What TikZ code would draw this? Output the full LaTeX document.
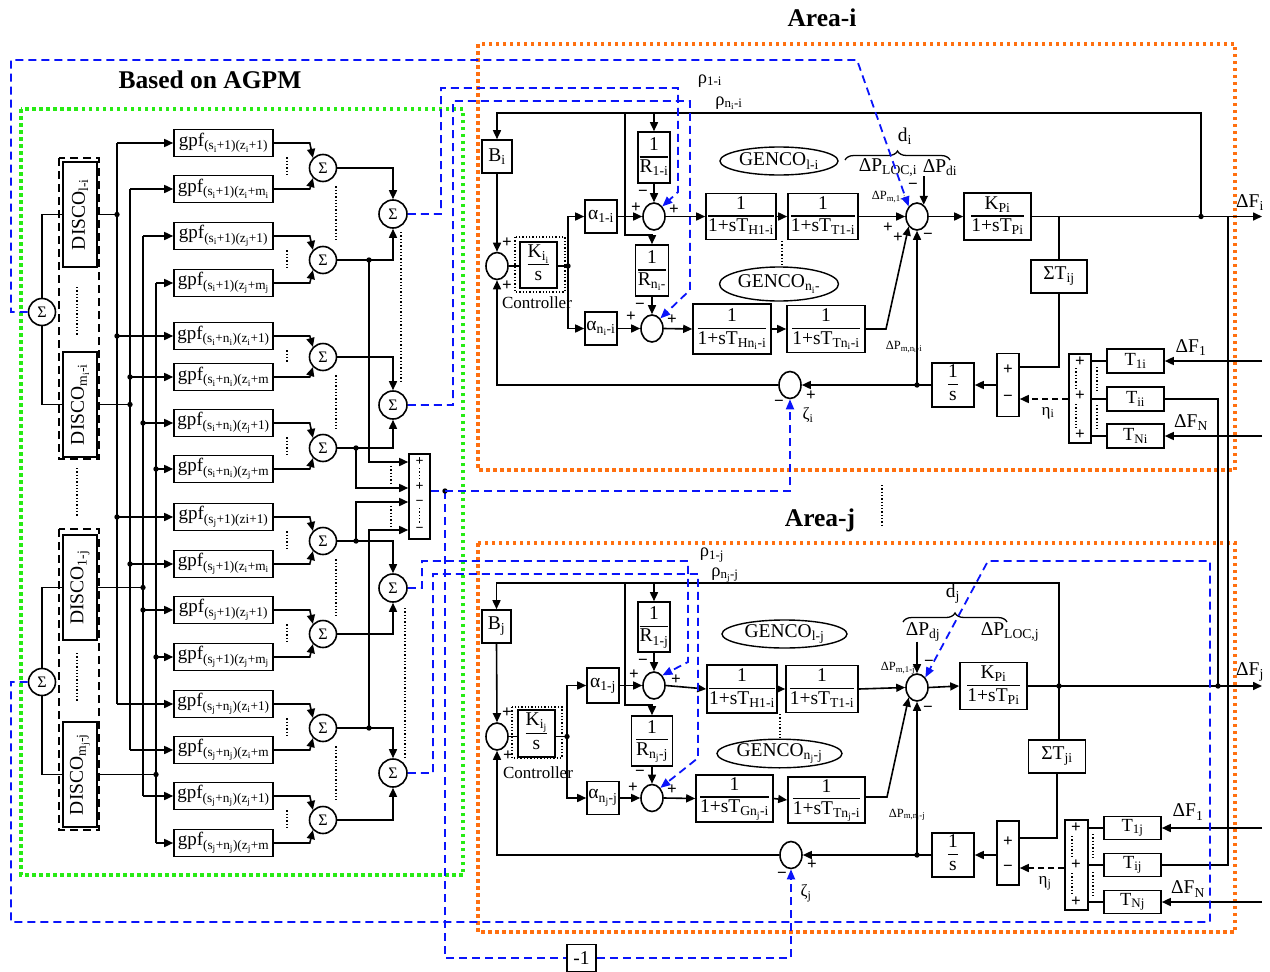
\documentclass[tikz,border=0pt]{standalone}
\usepackage{fontspec}
\setmainfont{Liberation Serif}
\usetikzlibrary{arrows.meta,shapes.geometric,decorations.pathreplacing}
\newcommand{\sbs}[1]{\textsubscript{#1}}
\newcommand{\myfs}{\fontsize{19.5}{19.5}\selectfont}
\newcommand{\fr}[2]{\begin{tabular}{@{}c@{}}#1\\\hline\rule{0pt}{15pt}#2\end{tabular}}
\setlength{\arrayrulewidth}{1.4pt}
\definecolor{cOrange}{RGB}{255,112,16}
\definecolor{cGreen}{RGB}{40,235,20}
\definecolor{cBlue}{RGB}{10,20,250}
\tikzset{
 ln/.style={line width=1.6pt},
 arr/.style={ln,-{Triangle[length=9pt,width=8pt]}},
 blk/.style={draw,line width=1.6pt,inner sep=0pt,font=\myfs},
 gbox/.style={draw,line width=1.6pt,inner sep=0pt,minimum width=99pt,minimum height=27pt,font=\fontsize{19}{19}\selectfont},
 sumc/.style={draw,ellipse,line width=1.6pt,minimum width=22pt,minimum height=27pt,inner sep=0pt},
 sigc/.style={draw,circle,line width=1.6pt,minimum size=27pt,inner sep=0pt,font=\fontsize{16}{16}\selectfont},
 gen/.style={draw,ellipse,line width=1.4pt,inner sep=0pt,font=\myfs},
 sgn/.style={font=\fontsize{17}{17}\selectfont\bfseries,inner sep=0pt},
 bdash/.style={draw=cBlue,line width=1.8pt,dash pattern=on 8pt off 5pt},
 barr/.style={bdash,-{Triangle[length=10pt,width=8pt]},cBlue},
 dotv/.style={line width=1.3pt,dash pattern=on 1.3pt off 2pt},
 kdash/.style={arr,dash pattern=on 6pt off 4pt},
 tlab/.style={inner sep=0pt,font=\myfs},
 mlab/.style={inner sep=0pt,font=\fontsize{17}{17}\selectfont},
 rlab/.style={inner sep=0pt,font=\fontsize{18.5}{18.5}\selectfont},
 smlab/.style={inner sep=0pt,font=\fontsize{12.5}{12.5}\selectfont},
 ttl/.style={inner sep=0pt,font=\fontsize{25.5}{25.5}\selectfont\bfseries},
 ofr/.style={draw=cOrange,line width=4pt,dash pattern=on 3.5pt off 3.5pt},
 gfr/.style={draw=cGreen,line width=4pt,dash pattern=on 3.5pt off 3.5pt},
 dfr/.style={draw,line width=2.5pt,dash pattern=on 8pt off 5pt},
}
\begin{document}
\begin{tikzpicture}[x=1pt,y=-1pt]
\useasboundingbox (0,0) rectangle (1270,972);
% titles
\node[ttl] (tAi) at (822,18) {Area-i};
\node[ttl] (tAj) at (820,520) {Area-j};
\node[ttl] (tAG) at (210,80) {Based on AGPM};
% frames
\draw[ofr] (478,44) rectangle (1235,470);
\draw[ofr] (478,543) rectangle (1235,932);
\draw[gfr] (21,109) rectangle (463,875);
\draw[dotv] (882,485) -- (882,525);

% ================= LEFT: DISCO / gpf =================
\draw[dfr] (59,158) rectangle (99,459);
\draw[dfr] (59,529) rectangle (99,830);
\node[draw,line width=1.6pt,minimum width=34pt,minimum height=105pt] (d1i) at (80,214.5) {};
\node[rotate=90,tlab] (d1it) at (d1i) {DISCO\sbs{l-i}};
\node[draw,line width=1.6pt,minimum width=34pt,minimum height=105pt] (dmi) at (80,404.5) {};
\node[rotate=90,tlab] (dmit) at (dmi) {DISCO\sbs{m\sbs{i}-i}};
\node[draw,line width=1.6pt,minimum width=34pt,minimum height=105pt] (d1j) at (80,587.5) {};
\node[rotate=90,tlab] (d1jt) at (d1j) {DISCO\sbs{1-j}};
\node[draw,line width=1.6pt,minimum width=34pt,minimum height=105pt] (dmj) at (80,774.5) {};
\node[rotate=90,tlab] (dmjt) at (dmj) {DISCO\sbs{m\sbs{j}-j}};
\draw[dotv] (77,287) -- (77,335);
\draw[dotv] (77,468) -- (77,516);
\draw[dotv] (77,653) -- (77,702);
\node[sigc] (si) at (42,312) {Σ};
\node[sigc] (sj) at (42,682) {Σ};
\draw[ln] (si.north) |- (d1i.west);
\draw[ln] (si.south) |- (dmi.west);
\draw[ln] (sj.north) |- (d1j.west);
\draw[ln] (sj.south) |- (dmj.west);

% gpf boxes
\node[gbox] (g1) at (223.5,143) {gpf\sbs{(s\sbs{i}+1)(z\sbs{i}+1)}};
\node[gbox] (g2) at (223.5,189) {gpf\sbs{(s\sbs{i}+1)(z\sbs{i}+m\sbs{i}}};
\node[gbox] (g3) at (223.5,236) {gpf\sbs{(s\sbs{i}+1)(z\sbs{j}+1)}};
\node[gbox] (g4) at (223.5,283) {gpf\sbs{(s\sbs{i}+1)(z\sbs{j}+m\sbs{j}}};
\node[gbox] (g5) at (223.5,336) {gpf\sbs{(s\sbs{i}+n\sbs{i})(z\sbs{i}+1)}};
\node[gbox] (g6) at (223.5,377) {gpf\sbs{(s\sbs{i}+n\sbs{i})(z\sbs{i}+m}};
\node[gbox] (g7) at (223.5,423) {gpf\sbs{(s\sbs{i}+n\sbs{i})(z\sbs{j}+1)}};
\node[gbox] (g8) at (223.5,469) {gpf\sbs{(s\sbs{i}+n\sbs{i})(z\sbs{j}+m}};
\node[gbox] (g9) at (223.5,517) {gpf\sbs{(s\sbs{j}+1)(zi+1)}};
\node[gbox] (g10) at (223.5,564) {gpf\sbs{(s\sbs{j}+1)(z\sbs{i}+m\sbs{i}}};
\node[gbox] (g11) at (223.5,610) {gpf\sbs{(s\sbs{j}+1)(z\sbs{j}+1)}};
\node[gbox] (g12) at (223.5,657) {gpf\sbs{(s\sbs{j}+1)(z\sbs{j}+m\sbs{j}}};
\node[gbox] (g13) at (223.5,704) {gpf\sbs{(s\sbs{j}+n\sbs{j})(z\sbs{i}+1)}};
\node[gbox] (g14) at (223.5,750) {gpf\sbs{(s\sbs{j}+n\sbs{j})(z\sbs{i}+m}};
\node[gbox] (g15) at (223.5,796) {gpf\sbs{(s\sbs{j}+n\sbs{j})(z\sbs{j}+1)}};
\node[gbox] (g16) at (223.5,843) {gpf\sbs{(s\sbs{j}+n\sbs{j})(z\sbs{j}+m}};

% buses
\coordinate (b1) at (117,0);
\coordinate (b2) at (130,0);
\coordinate (b3) at (143,0);
\coordinate (b4) at (156,0);
\draw[ln] (g1.west -| b1) -- (g13.west -| b1);
\draw[ln] (g2.west -| b2) -- (g14.west -| b2);
\draw[ln] (g3.west -| b3) -- (g15.west -| b3);
\draw[ln] (g4.west -| b4) -- (g16.west -| b4);
\foreach \g in {g1,g5,g9,g13} \draw[arr] (\g.west -| b1) -- (\g.west);
\foreach \g in {g2,g6,g10,g14} \draw[arr] (\g.west -| b2) -- (\g.west);
\foreach \g in {g3,g7,g11,g15} \draw[arr] (\g.west -| b3) -- (\g.west);
\foreach \g in {g4,g8,g12,g16} \draw[arr] (\g.west -| b4) -- (\g.west);
\foreach \g in {g5,g9} \fill (\g.west -| b1) circle (2.7pt);
\foreach \g in {g6,g10} \fill (\g.west -| b2) circle (2.7pt);
\foreach \g in {g7,g11} \fill (\g.west -| b3) circle (2.7pt);
\foreach \g in {g8,g12} \fill (\g.west -| b4) circle (2.7pt);
\draw[ln] (d1i.east) -- (d1i.east -| b1); \fill (d1i.east -| b1) circle (2.7pt);
\draw[ln] (dmi.east) -- (dmi.east -| b2); \fill (dmi.east -| b2) circle (2.7pt);
\draw[ln] (d1j.east) -- (d1j.east -| b3); \fill (d1j.east -| b3) circle (2.7pt);
\draw[ln] (dmj.east) -- (dmj.east -| b4); \fill (dmj.east -| b4) circle (2.7pt);
% dotted between gpf pairs
\foreach \a/\b in {g1/g2,g3/g4,g5/g6,g7/g8,g9/g10,g11/g12,g13/g14,g15/g16}
  \draw[dotv] ([xshift=63.5pt]\a.south) -- ([xshift=63.5pt]\b.north);

% first-level sums
\node[sigc] (sg1) at (323,168) {Σ};
\node[sigc] (sg2) at (323,260) {Σ};
\node[sigc] (sg3) at (323,357) {Σ};
\node[sigc] (sg4) at (323,448) {Σ};
\node[sigc] (sg5) at (323,541) {Σ};
\node[sigc] (sg6) at (323,634) {Σ};
\node[sigc] (sg7) at (323,728) {Σ};
\node[sigc] (sg8) at (323,820) {Σ};
\foreach \a/\b/\s in {g1/g2/sg1,g3/g4/sg2,g5/g6/sg3,g7/g8/sg4,g9/g10/sg5,g11/g12/sg6,g13/g14/sg7,g15/g16/sg8}{
  \draw[arr] (\a.east) -- ++(36,0) -- (\s.north west);
  \draw[arr] (\b.east) -- ++(36,0) -- (\s.south west);
}
\foreach \a/\b in {sg1/sg2,sg3/sg4,sg5/sg6,sg7/sg8}
  \draw[dotv] ([xshift=13pt,yshift=-4pt]\a.south) -- ([xshift=13pt,yshift=4pt]\b.north);
% second-level sums
\node[sigc,minimum size=28pt] (tg1) at (393,214) {Σ};
\node[sigc,minimum size=28pt] (tg2) at (393,405) {Σ};
\node[sigc,minimum size=28pt] (tg3) at (393,588) {Σ};
\node[sigc,minimum size=28pt] (tg4) at (393,773) {Σ};
\draw[arr] (sg1.east) -| (tg1.north);
\draw[arr] (sg2.east) -| (tg1.south);
\draw[arr] (sg3.east) -| (tg2.north);
\draw[arr] (sg4.east) -| (tg2.south);
\draw[arr] (sg5.east) -| (tg3.north);
\draw[arr] (sg6.east) -| (tg3.south);
\draw[arr] (sg7.east) -| (tg4.north);
\draw[arr] (sg8.east) -| (tg4.south);
\draw[dotv] (401,232) -- (401,382);
\draw[dotv] (405,608) -- (405,757);
% multi-input box
\node[draw,line width=1.6pt,minimum width=21pt,minimum height=85pt,inner sep=0pt] (mb) at (419.5,496.5) {};
\coordinate (j2) at (369,260);
\coordinate (j4) at (356,448);
\coordinate (j5) at (356,541);
\coordinate (j7) at (369,728);
\foreach \c in {j2,j4,j5,j7} \fill (\c) circle (2.7pt);
\draw[arr] (j2) |- (mb.west |- 0,462);
\draw[arr] (j4) |- (mb.west |- 0,488);
\draw[arr] (j5) |- (mb.west |- 0,502);
\draw[arr] (j7) |- (mb.west |- 0,530);
\node[sgn,font=\fontsize{14}{14}\selectfont\bfseries] (mbs1) at (419.5,462) {+};
\node[sgn,font=\fontsize{14}{14}\selectfont\bfseries] (mbs2) at (419.5,487) {+};
\node[sgn,font=\fontsize{14}{14}\selectfont\bfseries] (mbs3) at (419.5,503) {−};
\node[sgn,font=\fontsize{14}{14}\selectfont\bfseries] (mbs4) at (419.5,530) {−};
\draw[dotv] (419.5,468) -- (419.5,481);
\draw[dotv] (419.5,508) -- (419.5,524);
\draw[dotv] (391,466) -- (391,484);
\draw[dotv] (391,506) -- (391,526);

% ================= BLUE DASHED SIGNALS =================
\coordinate (mbd) at (445,491);
\draw[bdash] (mb.east |- mbd) -- (mbd);
\node[draw,line width=1.6pt,minimum width=29pt,minimum height=27pt,inner sep=0pt,font=\myfs] (m1) at (581.5,958) {-1};
\draw[bdash] (mbd) |- (m1.west);
\fill (mbd) circle (2.7pt);

% ================= AREA i =================
\node[blk,minimum width=30pt,minimum height=33pt] (Bi) at (497,156.5) {B\sbs{i}};
\node[sumc] (ci) at (497,266) {};
\node[blk,minimum width=37pt,minimum height=46pt] (Ki) at (538.5,265) {\fr{K\sbs{i\sbs{i}}}{s}};
\draw[dotv] (515,237) rectangle (565,292);
\node[mlab] (ctli) at (537,303) {Controller};
\coordinate (kdi) at (568,266);
\node[blk,minimum width=32pt,minimum height=33pt] (al1i) at (601,216.5) {α\sbs{1-i}};
\node[blk,minimum width=32pt,minimum height=33pt] (alni) at (601,328.5) {α\sbs{n\sbs{i}-i}};
\node[sumc] (s1i) at (654,216.5) {};
\node[sumc] (sni) at (652,328.5) {};
\node[blk,minimum width=32pt,minimum height=51pt] (R1i) at (654,157.5) {\fr{1}{R\sbs{1-i}}};
\node[blk,minimum width=33pt,minimum height=51pt] (Rni) at (652,270.5) {\fr{1}{R\sbs{n\sbs{i}-}}};
\node[blk,minimum width=70pt,minimum height=46pt] (H1i) at (741,216.5) {\fr{1}{1+sT\sbs{H1-i}}};
\node[blk,minimum width=70pt,minimum height=46pt] (T1i) at (823,216.5) {\fr{1}{1+sT\sbs{T1-i}}};
\node[blk,minimum width=78pt,minimum height=50pt] (Hni) at (732,329) {\fr{1}{1+sT\sbs{Hn\sbs{i}-i}}};
\node[blk,minimum width=78pt,minimum height=47pt] (Tni) at (826,329) {\fr{1}{1+sT\sbs{Tn\sbs{i}-i}}};
\node[gen,minimum width=118pt,minimum height=28pt] (Gi1) at (779,161) {GENCO\sbs{l-i}};
\node[gen,minimum width=119pt,minimum height=34pt] (Gin) at (779,284) {GENCO\sbs{n\sbs{i}-}};
\draw[dotv] (782,241) -- (782,266);
\node[sumc] (pmi) at (917,216.5) {};
\node[blk,minimum width=67pt,minimum height=47pt] (KPi) at (997.5,216.5) {\fr{K\sbs{Pi}}{1+sT\sbs{Pi}}};
\coordinate (sti) at (1059,216.5);
\coordinate (fdi) at (1201,216.5);
\coordinate (fxi) at (1228,216.5);
\coordinate (Fi) at (1262,216.5);
\node[blk,minimum width=56pt,minimum height=33pt] (STi) at (1059,276.5) {ΣT\sbs{ij}};
\node[blk,minimum width=22pt,minimum height=63pt] (pmbi) at (1008,385) {};
\node[blk,minimum width=42pt,minimum height=44pt] (osi) at (953,385) {\fr{1}{s}};
\coordinate (odi) at (917,385);
\node[sumc] (zi) at (790,385) {};
\node[blk,minimum width=22pt,minimum height=89pt] (ppi) at (1080,398.5) {};
\node[blk,minimum width=57pt,minimum height=24pt,font=\fontsize{18.5}{18.5}\selectfont] (T1ib) at (1135.5,361) {T\sbs{1i}};
\node[blk,minimum width=57pt,minimum height=24pt,font=\fontsize{18.5}{18.5}\selectfont] (Tiib) at (1135.5,399) {T\sbs{ii}};
\node[blk,minimum width=57pt,minimum height=24pt,font=\fontsize{18.5}{18.5}\selectfont] (TNib) at (1135.5,436) {T\sbs{Ni}};

\draw[arr] (fdi) -- (fdi |- 0,113) -| (Bi.north);
\draw[arr] (Bi.south) -- (ci.north);
\draw[arr] (R1i.north |- 0,113) -- (R1i.north);
\draw[arr] (625,113) -- (625,235) -| (Rni.north);
\draw[arr] (R1i.south) -- (s1i.north);
\draw[arr] (Rni.south) -- (sni.north);
\draw[ln] (ci.east) -- (ci.east -| Ki.west);
\draw[ln] (Ki.east |- kdi) -- (kdi);
\fill (kdi) circle (2.7pt);
\draw[arr] (kdi) |- (al1i.west);
\draw[arr] (kdi) |- (alni.west);
\draw[arr] (al1i.east) -- (s1i.west);
\draw[arr] (alni.east) -- (sni.west);
\draw[arr] (s1i.east) -- (H1i.west);
\draw[arr] (H1i.east) -- (T1i.west);
\draw[arr] (T1i.east) -- (pmi.west);
\draw[arr] (sni.east) -- (Hni.west);
\draw[arr] (Hni.east) -- (Tni.west);
\draw[arr] (Tni.east) -- (886,329) -- (pmi.south west);
\draw[arr] (pmi.east) -- (KPi.west);
\draw[arr] (KPi.east) -- (Fi);
\fill (fdi) circle (2.7pt);
\draw[ln] (sti) -- (STi.north);
\draw[ln] (STi.south) |- (pmbi.east |- 0,367);
\draw[arr] (pmbi.west) -- (osi.east);
\draw[arr] (osi.west) -- (zi.east);
\fill (odi) circle (2.7pt);
\draw[arr] (odi) -- (pmi.south);
\draw[arr] (zi.west) -| (ci.south);
\draw[ln] (T1ib.west) -- (ppi.east |- T1ib.west);
\draw[ln] (Tiib.west) -- (ppi.east |- Tiib.west);
\draw[ln] (TNib.west) -- (ppi.east |- TNib.west);
\draw[kdash] (ppi.west |- Tiib.west) -- (pmbi.east |- Tiib.west);
\draw[arr] (1262,361) -- (T1ib.east);
\draw[arr] (1262,436) -- (TNib.east);
\draw[dotv] (1097,367) -- (1097,392);
\draw[dotv] (1097,405) -- (1097,430);
\draw[dotv] (1076,368) -- (1076,390);
\draw[dotv] (1076,404) -- (1076,428);
\draw[decorate,decoration={brace,amplitude=9pt},line width=1.3pt] (845,160) -- (950,160);
% labels area i
\node[tlab] (lFi) at (1250,203) {ΔF\sbs{i}};
\node[tlab] (lF1i) at (1191,348) {ΔF\sbs{1}};
\node[tlab] (lFNi) at (1191,423) {ΔF\sbs{N}};
\node[mlab] (leti) at (1048,413) {η\sbs{i}};
\node[mlab] (lzi) at (808,415) {ζ\sbs{i}};
\node[rlab] (rho1i) at (710,81) {ρ\sbs{1-i}};
\node[rlab] (rhoni) at (729,103) {ρ\sbs{n\sbs{i}-i}};
\node[smlab] (pm1i) at (889,197) {ΔP\sbs{m,1-i}};
\node[smlab] (pmni) at (904,347) {ΔP\sbs{m,n\sbs{i}-i}};
\node[tlab] (ldi) at (905,136) {d\sbs{i}};
\node[tlab] (PLi) at (888,168) {ΔP\sbs{LOC,i}};
\node[tlab] (Pdi) at (940,168) {ΔP\sbs{di}};
\draw[arr] (Pdi.south -| pmi.60) -- (pmi.60);
\foreach \x/\y/\s [count=\k] in {507/243/+,507/286/+,636/208/+,643/193/−,674/210/+,631/317/+,640/306/−,672/320/+,913/186/−,888/228/+,898/238/+,928/236/−,811/396/+,779/403/−,1080/362/+,1080/396/+,1080/435/+,1008/370/+,1008/398/−}
  \node[sgn] (sa\k) at (\x,\y) {\s};

% ================= AREA j =================
\node[blk,minimum width=29pt,minimum height=33pt] (Bj) at (496.5,626.5) {B\sbs{j}};
\node[sumc] (cj) at (497,736.5) {};
\node[blk,minimum width=37pt,minimum height=47pt] (Kj) at (536.5,733.5) {\fr{K\sbs{i\sbs{j}}}{s}};
\draw[dotv] (512,707) rectangle (562,758);
\node[mlab] (ctlj) at (538,773) {Controller};
\coordinate (kdj) at (567,736.5);
\node[blk,minimum width=32pt,minimum height=35pt] (al1j) at (603,685.5) {α\sbs{1-j}};
\node[blk,minimum width=32pt,minimum height=33pt] (alnj) at (603,798) {α\sbs{n\sbs{j}-j}};
\node[sumc] (s1j) at (654,685.5) {};
\node[sumc] (snj) at (652,798) {};
\node[blk,minimum width=32pt,minimum height=50pt] (R1j) at (654,627) {\fr{1}{R\sbs{1-j}}};
\node[blk,minimum width=41pt,minimum height=50pt] (Rnj) at (652,741) {\fr{1}{R\sbs{n\sbs{j}-j}}};
\node[blk,minimum width=70pt,minimum height=48pt] (H1j) at (742,689) {\fr{1}{1+sT\sbs{H1-i}}};
\node[blk,minimum width=72pt,minimum height=47pt] (T1j) at (822,689) {\fr{1}{1+sT\sbs{T1-i}}};
\node[blk,minimum width=77pt,minimum height=47pt] (Gnj) at (734.5,798.5) {\fr{1}{1+sT\sbs{Gn\sbs{j}-i}}};
\node[blk,minimum width=77pt,minimum height=46pt] (Tnj) at (826.5,800) {\fr{1}{1+sT\sbs{Tn\sbs{j}-i}}};
\node[gen,minimum width=125pt,minimum height=28pt] (Gj1) at (784.5,634) {GENCO\sbs{l-j}};
\node[gen,minimum width=125pt,minimum height=27pt] (Gjn) at (779.5,753.5) {GENCO\sbs{n\sbs{j}-j}};
\draw[dotv] (780,714) -- (780,738);
\node[sumc] (pmj) at (917,687.5) {};
\node[blk,minimum width=67pt,minimum height=47pt] (KPj) at (993.5,686) {\fr{K\sbs{Pi}}{1+sT\sbs{Pi}}};
\coordinate (fdj) at (1059,686);
\coordinate (fxj) at (1218,686);
\coordinate (Fj) at (1262,686);
\node[blk,minimum width=57pt,minimum height=33pt] (STj) at (1057,756.5) {ΣT\sbs{ji}};
\node[blk,minimum width=22pt,minimum height=64pt] (pmbj) at (1008,853) {};
\node[blk,minimum width=42pt,minimum height=44pt] (osj) at (953,855) {\fr{1}{s}};
\coordinate (odj) at (917,855);
\node[sumc] (zj) at (791,855) {};
\node[blk,minimum width=23pt,minimum height=90pt] (ppj) at (1076.5,865) {};
\node[blk,minimum width=57pt,minimum height=23pt,font=\fontsize{18.5}{18.5}\selectfont] (T1jb) at (1132.5,828) {T\sbs{1j}};
\node[blk,minimum width=57pt,minimum height=23pt,font=\fontsize{18.5}{18.5}\selectfont] (Tijb) at (1132.5,865) {T\sbs{ij}};
\node[blk,minimum width=57pt,minimum height=23pt,font=\fontsize{18.5}{18.5}\selectfont] (TNjb) at (1132.5,902) {T\sbs{Nj}};

\draw[arr] (fdj) -- (fdj |- 0,583) -| (Bj.north);
\draw[arr] (Bj.south) -- (cj.north);
\draw[arr] (R1j.north |- 0,583) -- (R1j.north);
\draw[arr] (625,583) -- (625,705) -| (Rnj.north);
\draw[arr] (R1j.south) -- (s1j.north);
\draw[arr] (Rnj.south) -- (snj.north);
\draw[ln] (cj.east) -- (cj.east -| Kj.west);
\draw[ln] (Kj.east |- kdj) -- (kdj);
\fill (kdj) circle (2.7pt);
\draw[arr] (kdj) |- (al1j.west);
\draw[arr] (kdj) |- (alnj.west);
\draw[arr] (al1j.east) -- (s1j.west);
\draw[arr] (alnj.east) -- (snj.west);
\draw[arr] (s1j.east) -- (H1j.west);
\draw[arr] (H1j.east) -- (T1j.west);
\draw[arr] (T1j.east) -- (pmj.west);
\draw[arr] (snj.east) -- (Gnj.west);
\draw[arr] (Gnj.east) -- (Tnj.west);
\draw[arr] (Tnj.east |- 0,797) -- (887,797) -- (pmj.south west);
\draw[arr] (pmj.east) -- (KPj.west);
\draw[arr] (KPj.east) -- (Fj);
\fill (fdj) circle (2.7pt);
\fill (fxj) circle (2.7pt);
\draw[ln] (fdj) -- (STj.north -| fdj);
\draw[ln] (STj.south) |- (pmbj.east |- 0,838);
\draw[arr] (pmbj.west |- osj.east) -- (osj.east);
\draw[arr] (osj.west) -- (zj.east);
\fill (odj) circle (2.7pt);
\draw[arr] (odj) -- (pmj.south);
\draw[arr] (zj.west) -| (cj.south);
\draw[ln] (T1jb.west) -- (ppj.east |- T1jb.west);
\draw[ln] (Tijb.west) -- (ppj.east |- Tijb.west);
\draw[ln] (TNjb.west) -- (ppj.east |- TNjb.west);
\draw[kdash] (ppj.west |- 0,868) -- (pmbj.east |- 0,868);
\draw[arr] (1262,828) -- (T1jb.east);
\draw[arr] (1262,902) -- (TNjb.east);
\draw[dotv] (1093,834) -- (1093,859);
\draw[dotv] (1093,872) -- (1093,896);
\draw[dotv] (1072,836) -- (1072,858);
\draw[dotv] (1072,873) -- (1072,895);
\draw[decorate,decoration={brace,amplitude=9pt},line width=1.3pt] (903,622) -- (1007,622);
% inter-area links
\draw[ln] (Tiib.east) -| (fxj);
\draw[ln] (fxi) |- (Tijb.east);
% labels area j
\node[tlab] (lFj) at (1250,672) {ΔF\sbs{j}};
\node[tlab] (lF1j) at (1188,812) {ΔF\sbs{1}};
\node[tlab] (lFNj) at (1188,889) {ΔF\sbs{N}};
\node[mlab] (letj) at (1045,883) {η\sbs{j}};
\node[mlab] (lzj) at (806,893) {ζ\sbs{j}};
\node[rlab] (rho1j) at (712,555) {ρ\sbs{1-j}};
\node[rlab] (rhonj) at (725,575) {ρ\sbs{n\sbs{j}-j}};
\node[smlab] (pm1j) at (898,668) {ΔP\sbs{m,1-j}};
\node[smlab] (pmnj) at (907,815) {ΔP\sbs{m,n\sbs{j}-j}};
\node[tlab] (ldj) at (953,594) {d\sbs{j}};
\node[tlab] (Pdj) at (923,632) {ΔP\sbs{dj}};
\node[tlab] (PLj) at (1010,632) {ΔP\sbs{LOC,j}};
\draw[arr] (Pdj.south -| pmj.north) -- (pmj.north);
\foreach \x/\y/\s [count=\k] in {507/713/+,508/756/+,634/675/+,643/662/−,676/680/+,633/788/+,640/773/−,672/790/+,929/663/−,928/709/−,812/865/+,782/875/−,1076/828/+,1076/865/+,1076/902/+,1008/842/+,1008/868/−}
  \node[sgn] (sb\k) at (\x,\y) {\s};

% ================= BLUE DASHED (drawn last) =================
\draw[barr] (si.west) -- (11,312) -- (11,60) -- (857,60) -- (pmi.north west);
\draw[barr] (sj.west) -- (11,682) -- (11,922) -- (1210,922) -- (1210,561) -- (988,561) -- (pmj.north east);
\draw[barr] (tg1.east) -- (441,214) -- (441,88) -- (678,88) -- (678,192) -- (s1i.north east);
\draw[barr] (tg2.east) -- (453,405) -- (453,101) -- (690,101) -- (690,290) -- (sni.north east);
\draw[barr] (tg3.east) -- (422,588) -- (422,561) -- (688,561) -- (688,662) -- (s1j.north east);
\draw[barr] (tg4.east) -- (433,773) -- (433,574) -- (698,574) -- (698,758) -- (snj.north east);
\draw[barr] (mbd) -| (zi.south);
\draw[barr] (m1.east) -| (zj.south);
\end{tikzpicture}
\end{document}
